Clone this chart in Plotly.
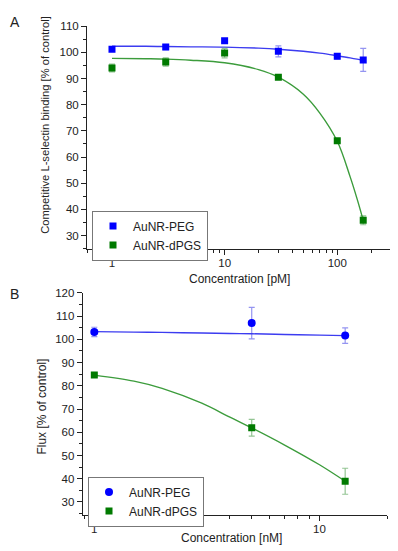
import plotly.graph_objects as go
import math

# ---------------- Data: Panel A ----------------
conc_a = [1, 3, 10, 30, 100, 170]
peg_a = [101.2, 102.0, 104.4, 100.4, 98.5, 97.1]
peg_a_err = [0.5, 1.0, 0.6, 2.1, 1.0, 4.4]
dpgs_a = [94.0, 96.3, 99.7, 90.5, 66.2, 35.8]
dpgs_a_err = [1.5, 1.6, 1.8, 0.5, 0.6, 1.7]
fit_x_a = [1, 2, 3, 5, 10, 20, 30, 50, 70, 100, 130, 150, 170]
peg_fit_a = [102.3, 102.3, 102.2, 102.1, 102.0, 101.6, 101.2, 100.4, 99.7, 98.7, 97.9, 97.4, 96.9]
dpgs_fit_a = [97.7, 97.55, 97.4, 97.0, 96.0, 93.4, 90.5, 84.0, 76.8, 66.0, 52.5, 44.0, 35.8]

# ---------------- Data: Panel B ----------------
conc_b = [1, 5, 13]
peg_b = [103.2, 107.0, 101.6]
peg_b_err = [2.0, 6.8, 3.3]
dpgs_b = [84.6, 61.9, 38.9]
dpgs_b_err = [0.5, 3.6, 5.6]
fit_x_b = [1, 1.5, 2, 3, 4, 5, 7, 10, 13]
peg_fit_b = [103.3, 103.1, 103.0, 102.7, 102.5, 102.4, 102.1, 101.8, 101.6]
dpgs_fit_b = [84.6, 82.0, 78.9, 72.5, 66.5, 61.9, 54.5, 46.0, 38.9]

# ---------------- Tick labels ----------------
xticks_a = [1, 10, 100]
xminor_a = [0.6, 0.7, 0.8, 0.9, 2, 3, 4, 5, 6, 7, 8, 9, 20, 30, 40, 50, 60, 70, 80, 90, 200, 300]
xticks_b = [1, 10]
xminor_b = [0.9, 2, 3, 4, 5, 6, 7, 8, 9, 20]
series_names = ["AuNR-PEG", "AuNR-dPGS"]

BLUE = "#0000ff"
GREEN = "#007a00"
BLUE_FIT = "#3c3cf0"
GREEN_FIT = "#3c9c3c"
BLUE_ERR = "rgba(60,60,230,0.55)"
GREEN_ERR = "rgba(40,140,40,0.5)"
FONT = "Liberation Sans, Arial, sans-serif"

# The page body has an 8px margin; size the figure to fill the rest of the window
OFF = 8
FW, FH = 398 - OFF, 551 - OFF

fig = go.Figure()

# Panel A fits
fig.add_trace(go.Scatter(x=fit_x_a, y=peg_fit_a, mode="lines", line=dict(color=BLUE_FIT, width=1.4, shape="spline"),
                         showlegend=False, xaxis="x", yaxis="y", hoverinfo="skip"))
fig.add_trace(go.Scatter(x=fit_x_a, y=dpgs_fit_a, mode="lines", line=dict(color=GREEN_FIT, width=1.4, shape="spline"),
                         showlegend=False, xaxis="x", yaxis="y", hoverinfo="skip"))
# Panel A points
fig.add_trace(go.Scatter(x=conc_a, y=peg_a, mode="markers", name=series_names[0],
                         marker=dict(symbol="square", size=7, color=BLUE),
                         error_y=dict(type="data", array=peg_a_err, color=BLUE_ERR, thickness=1.2, width=3),
                         xaxis="x", yaxis="y", legend="legend"))
fig.add_trace(go.Scatter(x=conc_a, y=dpgs_a, mode="markers", name=series_names[1],
                         marker=dict(symbol="square", size=7, color=GREEN),
                         error_y=dict(type="data", array=dpgs_a_err, color=GREEN_ERR, thickness=1.2, width=3),
                         xaxis="x", yaxis="y", legend="legend"))

# Panel B fits
fig.add_trace(go.Scatter(x=fit_x_b, y=peg_fit_b, mode="lines", line=dict(color=BLUE_FIT, width=1.4, shape="spline"),
                         showlegend=False, xaxis="x2", yaxis="y2", hoverinfo="skip"))
fig.add_trace(go.Scatter(x=fit_x_b, y=dpgs_fit_b, mode="lines", line=dict(color=GREEN_FIT, width=1.4, shape="spline"),
                         showlegend=False, xaxis="x2", yaxis="y2", hoverinfo="skip"))
# Panel B points
fig.add_trace(go.Scatter(x=conc_b, y=peg_b, mode="markers", name=series_names[0],
                         marker=dict(symbol="circle", size=8, color=BLUE),
                         error_y=dict(type="data", array=peg_b_err, color=BLUE_ERR, thickness=1.2, width=3),
                         xaxis="x2", yaxis="y2", legend="legend2"))
fig.add_trace(go.Scatter(x=conc_b, y=dpgs_b, mode="markers", name=series_names[1],
                         marker=dict(symbol="square", size=7, color=GREEN),
                         error_y=dict(type="data", array=dpgs_b_err, color=GREEN_ERR, thickness=1.2, width=3),
                         xaxis="x2", yaxis="y2", legend="legend2"))

def px_x(p):
    return (p - OFF) / FW

def px_y(p):
    return 1 - (p - OFF) / FH

axis_common = dict(showline=True, linecolor="#222", linewidth=1, ticks="outside", ticklen=5, tickwidth=1,
                   tickcolor="#222", showgrid=False, zeroline=False,
                   tickfont=dict(family=FONT, size=11.5, color="#222"))

fig.update_layout(
    width=FW, height=FH,
    margin=dict(l=0, r=0, t=0, b=0),
    plot_bgcolor="white", paper_bgcolor="white",
    font=dict(family=FONT, size=12, color="#222"),
    xaxis=dict(type="log", domain=[px_x(87), px_x(391)], anchor="y",
               range=[math.log10(0.6), math.log10(300)], tickvals=xticks_a,
               ticktext=[str(v) for v in xticks_a], ticklabelstandoff=-2,
               minor=dict(tickvals=xminor_a, ticks="outside", ticklen=3, tickcolor="#222", showgrid=False),
               **axis_common),
    yaxis=dict(domain=[px_y(246), px_y(20.3)], anchor="x", range=[24.7, 110], dtick=10, tick0=0,
               minor=dict(dtick=5, tick0=0, ticks="outside", ticklen=3, tickcolor="#222", showgrid=False),
               **axis_common),
    xaxis2=dict(type="log", domain=[px_x(82.7), px_x(387.3)], anchor="y2",
                range=[math.log10(0.888), math.log10(20)], tickvals=xticks_b,
                ticktext=[str(v) for v in xticks_b], ticklabelstandoff=-2,
                minor=dict(tickvals=xminor_b, ticks="outside", ticklen=3, tickcolor="#222", showgrid=False),
                **axis_common),
    yaxis2=dict(domain=[px_y(514.3), px_y(290)], anchor="x2", range=[24.5, 120], dtick=10, tick0=0,
                minor=dict(dtick=5, tick0=0, ticks="outside", ticklen=3, tickcolor="#222", showgrid=False),
                **axis_common),
    legend=dict(x=px_x(92), y=px_y(206.7), xanchor="left", yanchor="top", bgcolor="white",
                bordercolor="#777", borderwidth=1, font=dict(family=FONT, size=12, color="#222"),
                tracegroupgap=0, itemwidth=30),
    legend2=dict(x=px_x(88), y=px_y(475.7), xanchor="left", yanchor="top", bgcolor="white",
                 bordercolor="#777", borderwidth=1, font=dict(family=FONT, size=12, color="#222"),
                 tracegroupgap=0, itemwidth=30),
    showlegend=True,
)

annotations = [
    dict(text="A", x=px_x(8), y=px_y(16), xanchor="left", yanchor="middle", font=dict(size=14)),
    dict(text="B", x=px_x(8), y=px_y(291), xanchor="left", yanchor="middle", font=dict(size=14)),
    dict(text="Competitive L-selectin binding [% of control]", x=px_x(45), y=px_y(120), textangle=-90,
         xanchor="center", yanchor="middle", font=dict(size=11.2)),
    dict(text="Concentration [pM]", x=px_x(239), y=px_y(276), xanchor="center", yanchor="middle",
         font=dict(size=12)),
    dict(text="Flux [% of control]", x=px_x(42), y=px_y(405), textangle=-90,
         xanchor="center", yanchor="middle", font=dict(size=12)),
    dict(text="Concentration [nM]", x=px_x(231), y=px_y(538), xanchor="center", yanchor="middle",
         font=dict(size=12)),
]
for a in annotations:
    a.update(xref="paper", yref="paper", showarrow=False)
    a["font"].update(family=FONT, color="#222")
fig.update_layout(annotations=annotations)

fig.write_html("out.html")
